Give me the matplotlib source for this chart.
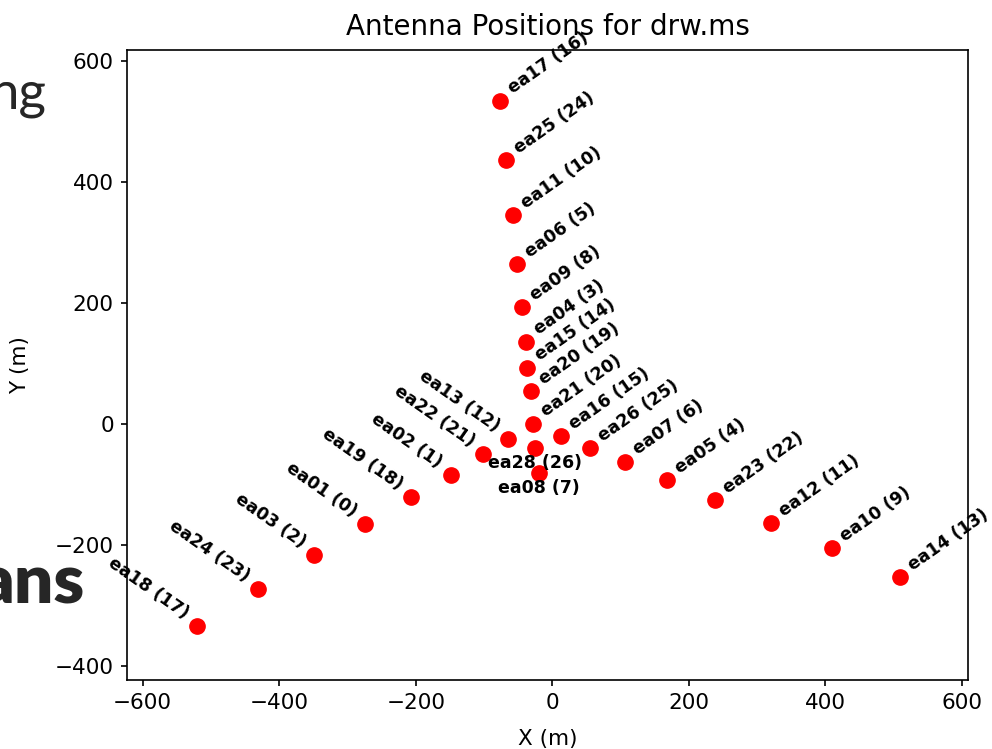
import matplotlib
matplotlib.use("Agg")
import matplotlib.pyplot as plt

# antenna table
names = ['ea17', 'ea25', 'ea11', 'ea06', 'ea09', 'ea04', 'ea15', 'ea20', 'ea21',
         'ea13', 'ea22', 'ea02', 'ea19', 'ea01', 'ea03', 'ea24', 'ea18',
         'ea28', 'ea08',
         'ea16', 'ea26', 'ea07', 'ea05', 'ea23', 'ea12', 'ea10', 'ea14']
ids = [16, 24, 10, 5, 8, 3, 14, 19, 20,
       12, 21, 1, 18, 0, 2, 23, 17,
       26, 7,
       15, 25, 6, 4, 22, 11, 9, 13]
xpos = [-77, -68, -58, -52, -45, -39, -37, -32, -29,
        -65, -102, -149, -207, -274, -349, -431, -520,
        -26, -20,
        12, 55, 106, 168, 238, 320, 409, 509]
ypos = [534, 436, 345, 264, 193, 136, 93, 54, 0,
        -24, -50, -84, -121, -165, -217, -273, -333,
        -40, -81,
        -20, -40, -62, -93, -126, -164, -205, -253]
arms = ['N'] * 9 + ['W'] * 8 + ['C'] * 2 + ['E'] * 8

plt.rcParams['font.family'] = ['DejaVu Sans']
fig = plt.figure(figsize=(9.92, 7.49), dpi=100)

# slide text peeking out from behind the figure
fig.text(0.046, 1 - 109 / 749, 'ng', family=['Lato', 'DejaVu Sans'], fontsize=38,
         color='#262626', ha='right', va='baseline')
fig.text(0.086, 1 - 604 / 749, 'ans', family=['Lato', 'DejaVu Sans'], fontsize=50,
         weight='heavy', color='#262626', ha='right', va='baseline')

ax = fig.add_axes([0.128, 0.092, 0.848, 0.841])
ax.plot(xpos, ypos, 'o', color='red', markersize=11)

for i in range(len(names)):
    label = ' %s (%d)' % (names[i], ids[i])
    if arms[i] == 'W':
        ax.text(xpos[i], ypos[i], label.strip() + ' ', fontsize=12.5, weight='bold',
                ha='right', va='bottom', rotation=-35)
    elif arms[i] == 'C':
        ax.annotate(label.strip(), (xpos[i], ypos[i]), xytext=(0, -4),
                    textcoords='offset points', fontsize=12.5, weight='bold',
                    ha='center', va='top')
    else:
        ax.text(xpos[i], ypos[i], label, fontsize=12.5, weight='bold',
                ha='left', va='bottom', rotation=35)

ax.set_xlim(-623, 609)
ax.set_ylim(-423, 618)
ax.set_xticks([-600, -400, -200, 0, 200, 400, 600])
ax.set_yticks([-400, -200, 0, 200, 400, 600])
ax.tick_params(labelsize=15.5, length=4.5, width=1.2, pad=5)
for s in ax.spines.values():
    s.set_linewidth(1.2)

ax.set_title('Antenna Positions for drw.ms', fontsize=20, pad=11)
ax.set_xlabel('X (m)', fontsize=15.5)
ax.set_ylabel('Y (m)', fontsize=15.5)
ax.xaxis.set_label_coords(0.5, -0.078)
ax.yaxis.set_label_coords(-0.115, 0.5)

fig.savefig('out.png', dpi=100)
